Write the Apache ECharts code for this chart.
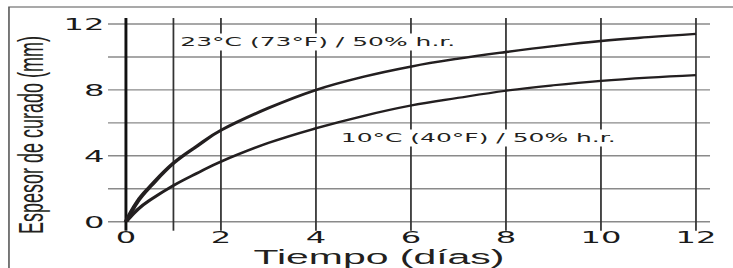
<!DOCTYPE html>
<html>
<head>
<meta charset="utf-8">
<script src="https://cdn.jsdelivr.net/npm/echarts@6/dist/echarts.min.js"></script>
<style>
  html, body { margin: 0; padding: 0; background: #fff; overflow: hidden; }
  /* the reference is stretched horizontally, so draw narrow and stretch */
  #chart { width: 376px; height: 268px; transform: scaleX(1.9495); transform-origin: 0 0; }
</style>
</head>
<body>
<div id="chart"></div>
<script>
// days of curing
var days = [0, 0.25, 0.5, 1, 1.5, 2, 3, 4, 5, 6, 7, 8, 9, 10, 11, 12];
// cure depth (mm) at 23°C / 50% h.r.
var warm = [0, 1.25, 2.1, 3.55, 4.6, 5.55, 6.9, 8.0, 8.8, 9.42, 9.9, 10.3, 10.66, 10.97, 11.2, 11.4];
// cure depth (mm) at 10°C / 50% h.r.
var cool = [0, 0.75, 1.3, 2.2, 2.95, 3.65, 4.78, 5.67, 6.42, 7.05, 7.52, 7.95, 8.28, 8.55, 8.75, 8.9];
// grid lines
var xLines = [0, 1, 2, 4, 6, 8, 10, 12];
var yLines = [0, 2, 4, 6, 8, 10, 12];

var ink = '#231f20';

function pairs(xs, ys) {
    return xs.map(function (x, i) { return [x, ys[i]]; });
}

var chart = echarts.init(document.getElementById('chart'), null, { renderer: 'svg' });

var option = {
    animation: false,
    backgroundColor: '#fff',
    grid: { left: 64.6, right: 19, top: 24, bottom: 46.3 },
    xAxis: {
        type: 'value', min: 0, max: 12, interval: 2,
        axisLine: { show: false }, axisTick: { show: false }, splitLine: { show: false },
        axisLabel: { margin: 9, fontSize: 16.5, lineHeight: 13, fontFamily: 'DejaVu Sans', color: '#1a1a1a' }
    },
    yAxis: {
        type: 'value', min: 0, max: 12, interval: 4,
        axisLine: { show: false }, axisTick: { show: false }, splitLine: { show: false },
        axisLabel: { margin: 11, fontSize: 16.5, fontFamily: 'DejaVu Sans', color: '#1a1a1a' }
    },
    graphic: [
        {
            type: 'rect', z: 0, silent: true,
            shape: { x: 4.6, y: 7, width: 500, height: 400 },
            style: { fill: 'none', stroke: '#555', lineWidth: 0.8 }
        },
        {
            type: 'text', z: 10, x: 16, y: 135, rotation: Math.PI / 2,
            style: { text: 'Espesor de curado (mm)', fontSize: 18, fontFamily: 'Liberation Sans',
                     fill: ink, align: 'center', verticalAlign: 'middle' }
        },
        {
            type: 'text', z: 10, x: 194.4, y: 257,
            style: { text: 'Tiempo (días)', fontSize: 21, lineHeight: 17, fontFamily: 'Liberation Sans',
                     fill: ink, align: 'center', verticalAlign: 'middle' }
        },
        {
            type: 'text', z: 10, x: 91.5, y: 42,
            style: { text: '23°C (73°F) / 50% h.r.', fontSize: 12.8, fontFamily: 'DejaVu Sans',
                     fill: ink, align: 'left', verticalAlign: 'middle',
                     backgroundColor: '#fff', padding: [2, 1] }
        },
        {
            type: 'text', z: 10, x: 173.8, y: 138,
            style: { text: '10°C (40°F) / 50% h.r.', fontSize: 12.8, fontFamily: 'DejaVu Sans',
                     fill: ink, align: 'left', verticalAlign: 'middle',
                     backgroundColor: '#fff', padding: [2, 1] }
        }
    ],
    series: [
        {
            // horizontal grid lines, sticking out a bit on both sides
            type: 'custom', z: 1, silent: true, clip: false,
            data: yLines.map(function (v) { return [0, v]; }),
            renderItem: function (params, api) {
                var a = api.coord([0, api.value(1)]);
                var b = api.coord([12, api.value(1)]);
                return {
                    type: 'line',
                    shape: { x1: a[0] - 9.2, y1: a[1], x2: b[0] + 7.2, y2: b[1] },
                    style: { stroke: '#8a8a8a', lineWidth: 1.4 }
                };
            }
        },
        {
            // vertical grid lines
            type: 'custom', z: 2, silent: true, clip: false,
            data: xLines.map(function (v) { return [v, 0]; }),
            renderItem: function (params, api) {
                var x = api.value(0);
                var top = api.coord([x, 12]);
                var bot = api.coord([x, 0]);
                return {
                    type: 'line',
                    shape: { x1: top[0], y1: top[1] - 6, x2: bot[0], y2: bot[1] + 9 },
                    style: { stroke: x === 0 ? '#111' : '#333', lineWidth: x === 0 ? 1.5 : 0.9 }
                };
            }
        },
        {
            name: '23°C', type: 'line', z: 5, smooth: 0.4, symbol: 'none',
            data: pairs(days, warm),
            lineStyle: { color: ink, width: 2.4 }
        },
        {
            name: '10°C', type: 'line', z: 5, smooth: 0.4, symbol: 'none',
            data: pairs(days, cool),
            lineStyle: { color: ink, width: 2.2 }
        }
    ]
};

chart.setOption(option);
</script>
</body>
</html>
